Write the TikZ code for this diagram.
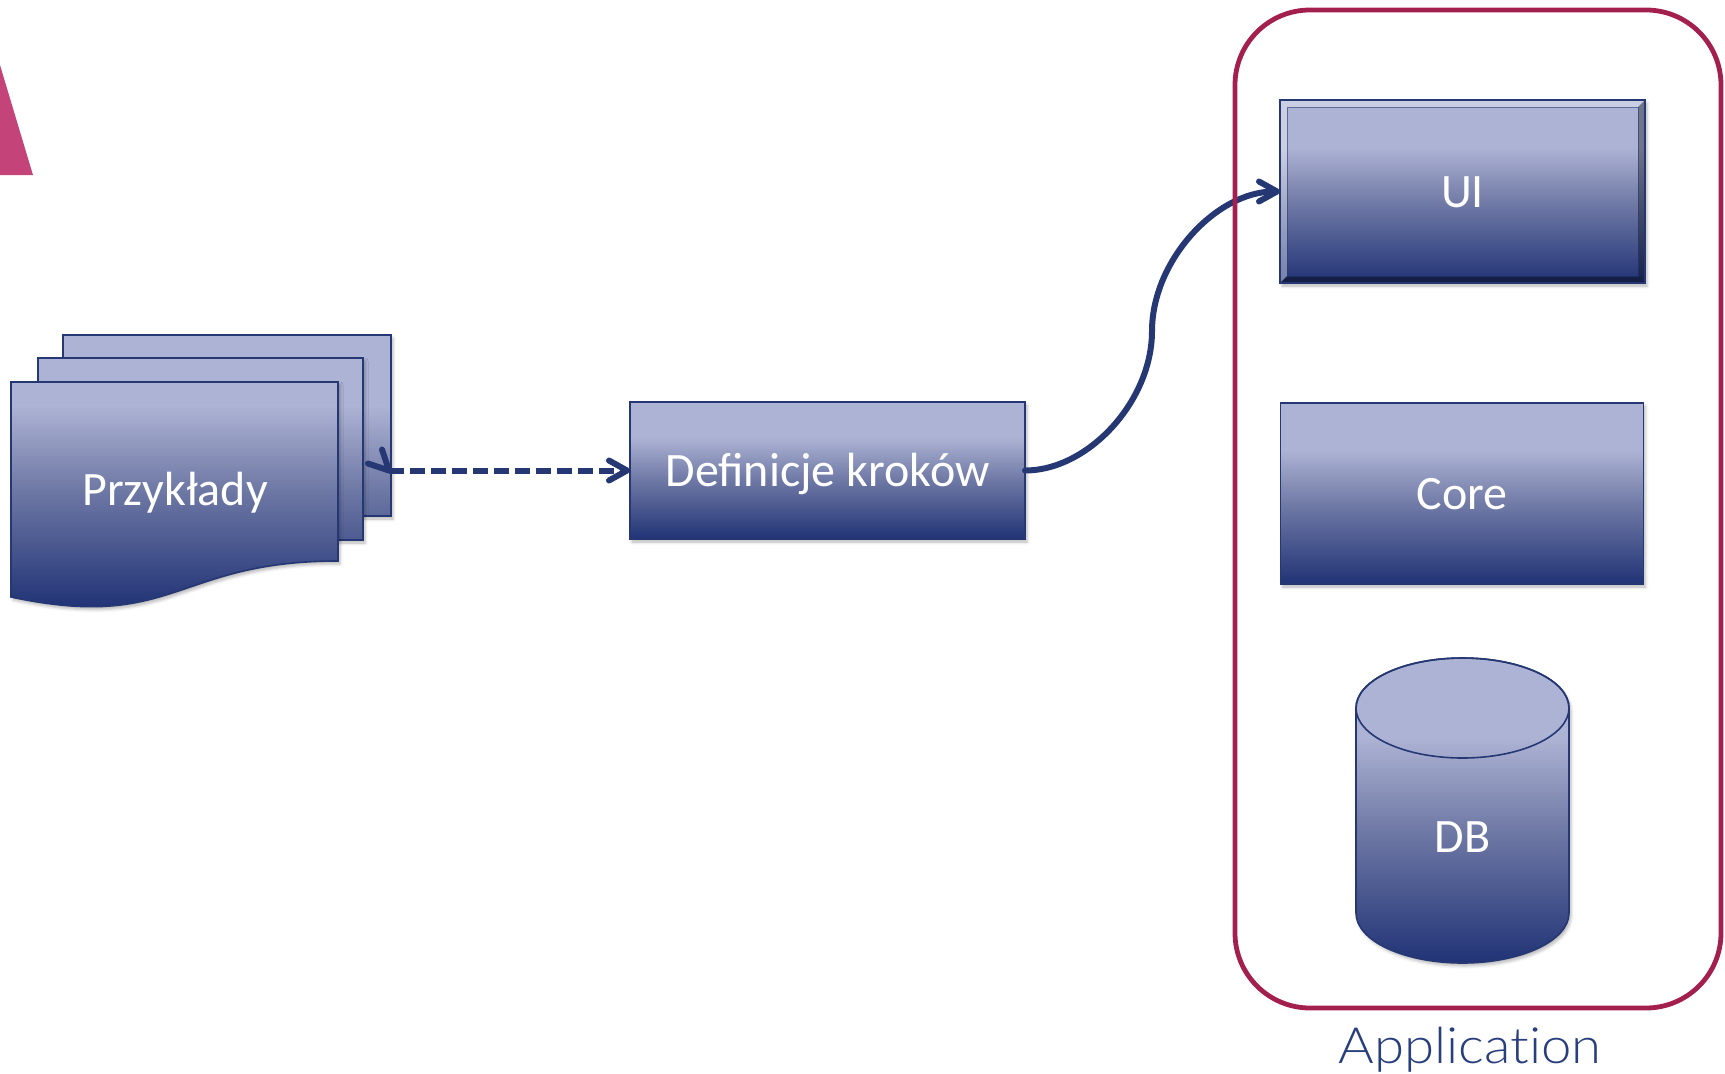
\documentclass[tikz,border=0pt]{standalone}
\usepackage{fontspec}
\newfontfamily\boxfont{Carlito}
\newfontfamily\appfont{Lato Light}[Ligatures=NoCommon, FakeStretch=1.09]
\usetikzlibrary{arrows.meta,shadows.blur}
\definecolor{navy}{RGB}{37,56,115}
\definecolor{gdark}{RGB}{33,51,118}
\definecolor{gmid}{RGB}{112,122,166}
\definecolor{glight}{RGB}{173,179,212}
\definecolor{appred}{RGB}{163,32,78}
\definecolor{tripink}{RGB}{196,68,122}
\definecolor{applabel}{RGB}{40,62,125}
\pgfdeclareverticalshading{navyshade}{100bp}{color(0bp)=(gdark); color(25bp)=(gdark); color(47bp)=(gmid); color(62bp)=(glight); color(100bp)=(glight)}
\tikzset{
  softshadow/.style={blur shadow={shadow xshift=2pt, shadow yshift=-3pt, shadow blur radius=3pt, shadow opacity=28}},
  boxlabel/.style={text=white, font=\boxfont\fontsize{48}{58}\selectfont, text height=31pt, text depth=0pt, inner sep=0pt},
  navybox/.style={boxlabel, shading=navyshade, draw=navy, line width=1.6pt, outer sep=0pt, softshadow},
  pageline/.style={draw=navy, line width=1.6pt},
  conn/.style={draw=navy, line width=6pt, line cap=round, line join=round},
  barb/.style={-{Straight Barb[length=18pt, width=20pt, round]}},
}
\begin{document}
\begin{tikzpicture}[x=1pt, y=-1pt]
\useasboundingbox (0,0) rectangle (1725,1074);
\clip (0,0) rectangle (1725,1074);

% pink triangle at the left edge
\fill[tripink] (0,65) -- (33,175) -- (0,175) -- cycle;

% multi-document "Przyklady"
\path[softshadow] (63,335) rectangle (391,516);
\begin{scope}
  \clip (63,335) rectangle (391,516);
  \shade[shading=navyshade] (11,335) rectangle (391,607);
\end{scope}
\draw[pageline] (63,335) rectangle (391,516);

\path[softshadow] (38,358) rectangle (363,540);
\begin{scope}
  \clip (38,358) rectangle (363,540);
  \shade[shading=navyshade] (11,335) rectangle (391,607);
\end{scope}
\draw[pageline] (38,358) rectangle (363,540);

\path[softshadow] (11,382) -- (338,382) -- (338,561) .. controls (175,561) and (175,632) .. (11,597) -- cycle;
\begin{scope}
  \clip (11,382) -- (338,382) -- (338,561) .. controls (175,561) and (175,632) .. (11,597) -- cycle;
  \shade[shading=navyshade] (11,335) rectangle (391,607);
\end{scope}
\draw[pageline] (11,382) -- (338,382) -- (338,561) .. controls (175,561) and (175,632) .. (11,597) -- cycle;
\node[boxlabel] (docs) at (175,490) {Przykłady};

% step definitions
\node[navybox, minimum width=395pt, minimum height=137pt] (defs) at (827.5,470.5) {Definicje kroków};

% application layers
\node[navybox, minimum width=365pt, minimum height=183pt] (ui) at (1462.5,191.5) {UI};
\fill[white, opacity=0.36] (1280,100) -- (1645,100) -- (1638,107) -- (1287,107) -- cycle;
\fill[white, opacity=0.38] (1280,100) -- (1287,107) -- (1287,276) -- (1280,283) -- cycle;
\fill[black, opacity=0.35] (1645,100) -- (1645,283) -- (1638,276) -- (1638,107) -- cycle;
\fill[black, opacity=0.42] (1280,283) -- (1645,283) -- (1638,276) -- (1287,276) -- cycle;
\draw[navy, line width=0.6pt, opacity=0.6] (1287,107) rectangle (1638,276);
\draw[navy, line width=1.6pt] (1280,100) rectangle (1645,283);

\node[navybox, minimum width=363pt, minimum height=181pt] (core) at (1462,493.5) {Core};

% database cylinder
\path[softshadow] (1356,708) -- (1356,913) arc[start angle=180, end angle=0, x radius=106.5, y radius=50] -- (1569,708) arc[start angle=0, end angle=-180, x radius=106.5, y radius=50] -- cycle;
\shade[shading=navyshade] (1356,708) -- (1356,913) arc[start angle=180, end angle=0, x radius=106.5, y radius=50] -- (1569,708) arc[start angle=0, end angle=-180, x radius=106.5, y radius=50] -- cycle;
\draw[navy, line width=1.6pt] (1356,708) -- (1356,913) arc[start angle=180, end angle=0, x radius=106.5, y radius=50] -- (1569,708) arc[start angle=0, end angle=-180, x radius=106.5, y radius=50] -- cycle;
\draw[navy, line width=1.6pt] (1462.5,708) ellipse[x radius=106.5, y radius=50];
\node[boxlabel] (db) at (1462.5,837) {DB};

% connectors
\coordinate (dstart) at (389,470.5);
\coordinate (bend) at (1152,331);
\draw[conn, line cap=butt, dash pattern=on 15pt off 6pt, barb] (dstart) -- (defs.west);
\draw[conn] (dstart) ++(-7,-21) -- (dstart) -- ++(-21,-7);
\draw[conn, barb] (defs.east) .. controls +(63.5,0) and +(0,70) .. (bend) .. controls +(0,-70) and +(-64,0) .. (ui.west);

% application container
\node[draw=appred, line width=4.8pt, rounded corners=75pt, minimum width=486pt, minimum height=998pt, inner sep=0pt] (app) at (1478,509) {};
\node[anchor=base, text=applabel, font=\appfont\fontsize{50}{60}\selectfont, inner sep=0pt] (applbl) at (1470,1063) {Application};
\end{tikzpicture}
\end{document}
